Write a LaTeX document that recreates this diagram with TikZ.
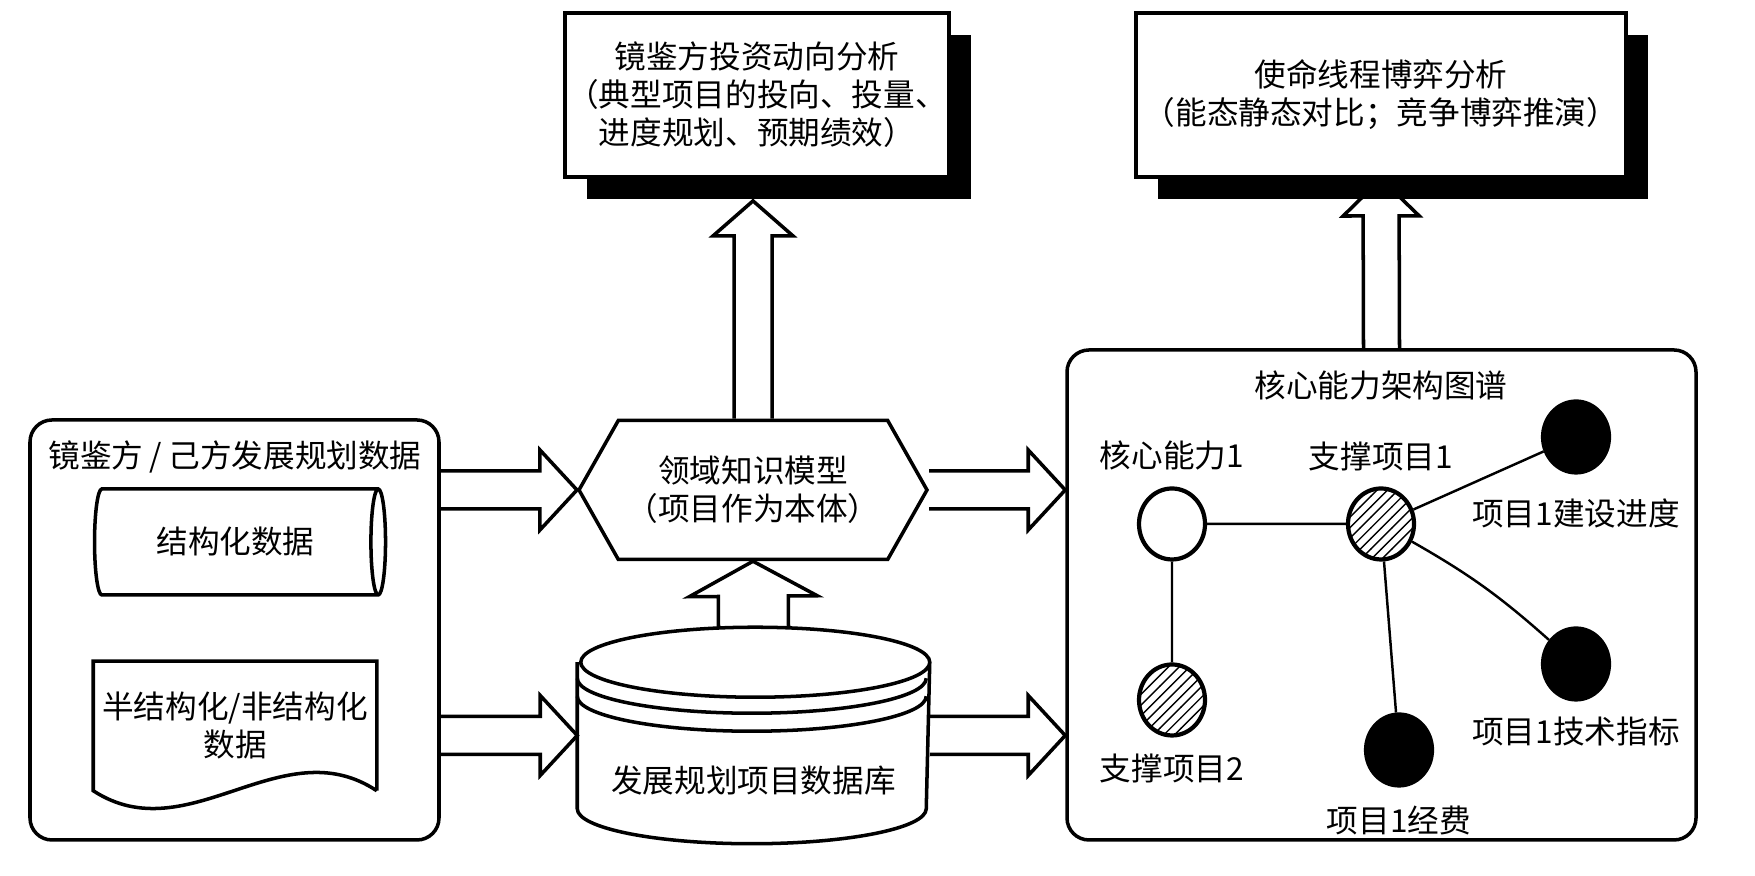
\documentclass[tikz,border=0pt]{standalone}
\usepackage{fontspec}
\setmainfont{Noto Sans CJK SC}
\usetikzlibrary{arrows.meta,positioning,shapes.geometric,shapes.symbols,shadows,calc,patterns}

% outlined block arrow: from, to, half shaft, half head, head length
\newcommand{\fatarrow}[5]{%
  \coordinate (fa-base) at ($(#2)!#5!(#1)$);
  \draw[line width=1pt]
    ($(#1)!#3!90:(#2)$) -- ($(fa-base)!#3!90:(#2)$) -- ($(fa-base)!#4!90:(#2)$)
    -- (#2) -- ($(fa-base)!#4!-90:(#2)$) -- ($(fa-base)!#3!-90:(#2)$) -- ($(#1)!#3!-90:(#2)$);
}

\begin{document}
\begin{tikzpicture}[font=\fontsize{9}{10.8}\selectfont, line width=1pt,
    outbox/.style={draw,fill=white,line width=1.1pt,inner sep=0pt,align=center,minimum height=16.4mm,
      drop shadow={shadow xshift=2.2mm,shadow yshift=-2.2mm,fill=black,opacity=1}},
    frame/.style={draw,rounded corners=2.2mm},
    dot/.style={ellipse,draw,line width=1.2pt,minimum width=6.6mm,minimum height=7.1mm,inner sep=0pt},
    link/.style={line width=0.7pt}]
  \useasboundingbox (0,0) rectangle (17.55,8.76);

  % planning data
  \node[frame,minimum width=40.9mm,minimum height=42mm] (lb) at (2.345,2.46) {};
  \node (lbt) at (2.35,4.19) {镜鉴方\hbox to 0.8em{\hss/\hss}己方发展规划数据};
  \node[cylinder,draw,aspect=0.5,minimum width=10.6mm,minimum height=29.1mm,inner sep=0pt] (struct) at (2.355,3.34) {结构化数据};
  \node[minimum width=28mm,minimum height=12.6mm,align=center,inner sep=0pt] (semi) at (2.35,1.50) {半结构化/非结构化\\数据};
  \draw (semi.south east) -- (semi.north east) -- (semi.north west) -- (semi.south west)
    .. controls +(0.95,-0.62) and +(-0.95,0.63) .. (semi.south east);

  % model and database
  \node[signal,signal to=west and east,signal pointer angle=121,draw,minimum width=34.8mm,minimum height=13.9mm,
    inner sep=0pt,align=center] (hex) at (7.53,3.86) {领域知识模型\\（项目作为本体）};
  \node[minimum width=34.9mm,minimum height=14.3mm,inner sep=0pt,
    label={[yshift=-4.5mm]center:发展规划项目数据库}] (db) at (7.535,1.405) {};
  \draw (db.north west) -- (db.south west) arc[start angle=180,end angle=360,x radius=17.45mm,y radius=3.5mm]
    -- (db.north east) arc[start angle=0,end angle=360,x radius=17.45mm,y radius=3.5mm];
  \foreach \d in {1.6,3.4}
    \draw ([yshift=-\d mm]db.north west) arc[start angle=180,end angle=360,x radius=17.45mm,y radius=3.5mm];

  % analyses
  \node[outbox,minimum width=38.4mm] (box1) at (7.57,7.81) {镜鉴方投资动向分析\\（典型项目的投向、投量、\\进度规划、预期绩效）};
  \node[outbox,minimum width=49mm] (box2) at (13.81,7.81) {使命线程博弈分析\\（能态静态对比；竞争博弈推演）};

  % capability map
  \node[frame,minimum width=62.9mm,minimum height=49mm] (rb) at (13.815,2.81) {};
  \node (rbt) at (13.81,4.90) {核心能力架构图谱};
  \node[dot] (cap1) at (11.72,3.52) {};
  \node[dot,pattern=north east lines] (sup1) at (13.81,3.52) {};
  \node[dot,pattern=north east lines] (sup2) at (11.72,1.76) {};
  \node[dot,fill=black] (prog) at (15.76,4.39) {};
  \node[dot,fill=black] (tech) at (15.76,2.12) {};
  \node[dot,fill=black] (fund) at (13.99,1.26) {};
  \node[inner sep=0pt,above=1.4mm of cap1] (cap1l) {核心能力1};
  \node[inner sep=0pt,above=1.4mm of sup1] (sup1l) {支撑项目1};
  \node[inner sep=0pt,below=1.5mm of sup2] (sup2l) {支撑项目2};
  \node[inner sep=0pt,below=2.2mm of prog] (progl) {项目1建设进度};
  \node[inner sep=0pt,below=1.4mm of tech] (techl) {项目1技术指标};
  \node[inner sep=0pt,below=1.7mm of fund] (fundl) {项目1经费};
  \draw[link] (cap1) -- (sup1) (cap1) -- (sup2) (sup1) -- (prog) (sup1) -- (fund);
  \draw[link] (sup1) to[bend left=6] (tech);

  % block arrows
  \coordinate (a1s) at (lb.east |- hex.west);
  \coordinate (a2s) at (lb.east |- db.west);
  \coordinate (a3e) at (rb.west |- hex.east);
  \coordinate (a4e) at (rb.west |- db.east);
  \coordinate (a5e) at ([yshift=-2.2mm]box1.south -| hex.north);
  \coordinate (a6s) at ([yshift=3.5mm]db.north);
  \fatarrow{a1s}{hex.west}{1.9mm}{4.0mm}{3.7mm}
  \fatarrow{a2s}{db.west}{1.9mm}{4.0mm}{3.7mm}
  \fatarrow{hex.east}{a3e}{1.9mm}{4.0mm}{3.7mm}
  \fatarrow{db.east}{a4e}{1.9mm}{4.0mm}{3.7mm}
  \fatarrow{hex.north}{a5e}{1.9mm}{4.0mm}{3.5mm}
  \fatarrow{rb.north}{box2.south}{1.8mm}{3.8mm}{3.7mm}
  \fatarrow{a6s}{hex.south}{3.5mm}{6.4mm}{3.5mm}
\end{tikzpicture}
\end{document}
